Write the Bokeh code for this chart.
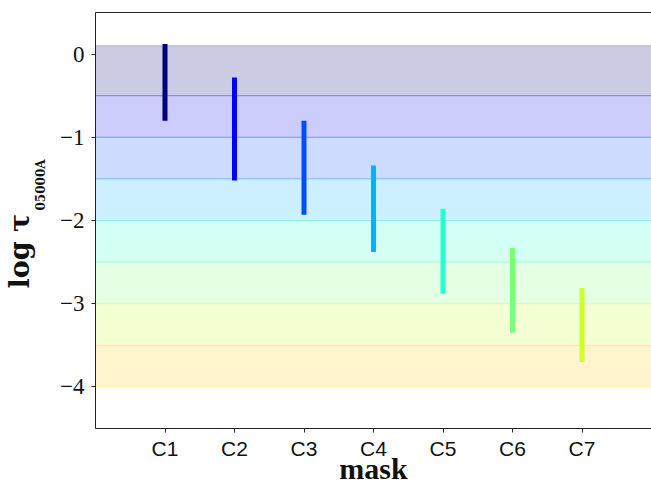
from bokeh.plotting import figure
from bokeh.models import LinearAxis, Range1d, FixedTicker, ColumnDataSource, Title
from bokeh.embed import file_html
from bokeh.resources import INLINE

# ---- data ----
categories = ["C1", "C2", "C3", "C4", "C5", "C6", "C7"]
x_pos = [1, 2, 3, 4, 5, 6, 7]
seg_top = [0.12, -0.28, -0.80, -1.34, -1.86, -2.33, -2.81]
seg_bottom = [-0.80, -1.52, -1.93, -2.38, -2.88, -3.35, -3.70]
band_top = [0.1, -0.5, -1.0, -1.5, -2.0, -2.5, -3.0, -3.5]
band_bottom = [-0.5, -1.0, -1.5, -2.0, -2.5, -3.0, -3.5, -4.0]
y_ticks = [0, -1, -2, -3, -4]

# jet colormap samples (style)
jet = ["#00007F", "#0000F3", "#004CFF", "#00B2FF", "#29FFCE", "#7BFF7B", "#CEFF29", "#FFC600"]

p = figure(width=651, height=488, output_backend="svg", toolbar_location=None,
           x_range=Range1d(0, 8), y_range=Range1d(-4.5, 0.5),
           min_border_left=95, min_border_right=0, min_border_top=12, min_border_bottom=60)
p.xgrid.visible = False
p.ygrid.visible = False
p.outline_line_color = None
p.background_fill_color = "white"

band_src = ColumnDataSource(dict(top=band_top, bottom=band_bottom,
                                 left=[0] * len(band_top), right=[8] * len(band_top),
                                 color=jet[:len(band_top)]))
p.quad(left="left", right="right", top="top", bottom="bottom", source=band_src,
       fill_color="color", fill_alpha=0.2, line_color="color", line_alpha=0.22, line_width=1)

seg_src = ColumnDataSource(dict(x=x_pos, y0=seg_bottom, y1=seg_top, color=jet[:len(x_pos)]))
p.segment(x0="x", y0="y0", x1="x", y1="y1", source=seg_src, line_color="color",
          line_width=5, line_cap="butt")

# axes styling
for ax in (p.xaxis[0], p.yaxis[0]):
    ax.axis_line_color = "#222222"
    ax.major_tick_line_color = "#222222"
    ax.major_tick_in = 0
    ax.major_tick_out = 4
    ax.minor_tick_line_color = None

p.xaxis.ticker = FixedTicker(ticks=x_pos)
p.xaxis.major_label_overrides = {x: c for x, c in zip(x_pos, categories)}
p.xaxis.major_label_text_font = "Liberation Sans"
p.xaxis.major_label_text_font_size = "21px"
p.xaxis.major_label_text_color = "#111111"
p.xaxis.major_label_standoff = 4
p.xaxis.axis_label = "mask"
p.xaxis.axis_label_text_font = "Liberation Serif"
p.xaxis.axis_label_text_font_style = "bold"
p.xaxis.axis_label_text_font_size = "30px"
p.xaxis.axis_label_text_color = "#111111"
p.xaxis.axis_label_standoff = -11

p.yaxis.ticker = FixedTicker(ticks=y_ticks)
p.yaxis.major_label_overrides = {t: (str(t).replace("-", "\u2212")) for t in y_ticks}
p.yaxis.major_label_text_font = "Liberation Serif"
p.yaxis.major_label_text_font_size = "23px"
p.yaxis.major_label_text_color = "#111111"
p.yaxis.major_label_standoff = 7

# top spine
top_ax = LinearAxis(ticker=FixedTicker(ticks=[]), axis_line_color="#222222",
                    major_tick_line_color=None, minor_tick_line_color=None,
                    major_label_text_font_size="0px")
p.add_layout(top_ax, "above")

# y-axis title: main text plus subscript
sub_title = Title(text="05000A", align="left", offset=218, standoff=20,
                  text_font="DejaVu Serif", text_font_style="bold",
                  text_font_size="12px", text_color="#111111")
main_title = Title(text="log \u03c4", align="left", offset=140, standoff=-26,
                   text_font="DejaVu Serif", text_font_style="bold",
                   text_font_size="27px", text_color="#111111")
p.add_layout(sub_title, "left")
p.add_layout(main_title, "left")

open("out.html", "w").write(file_html(p, INLINE))
